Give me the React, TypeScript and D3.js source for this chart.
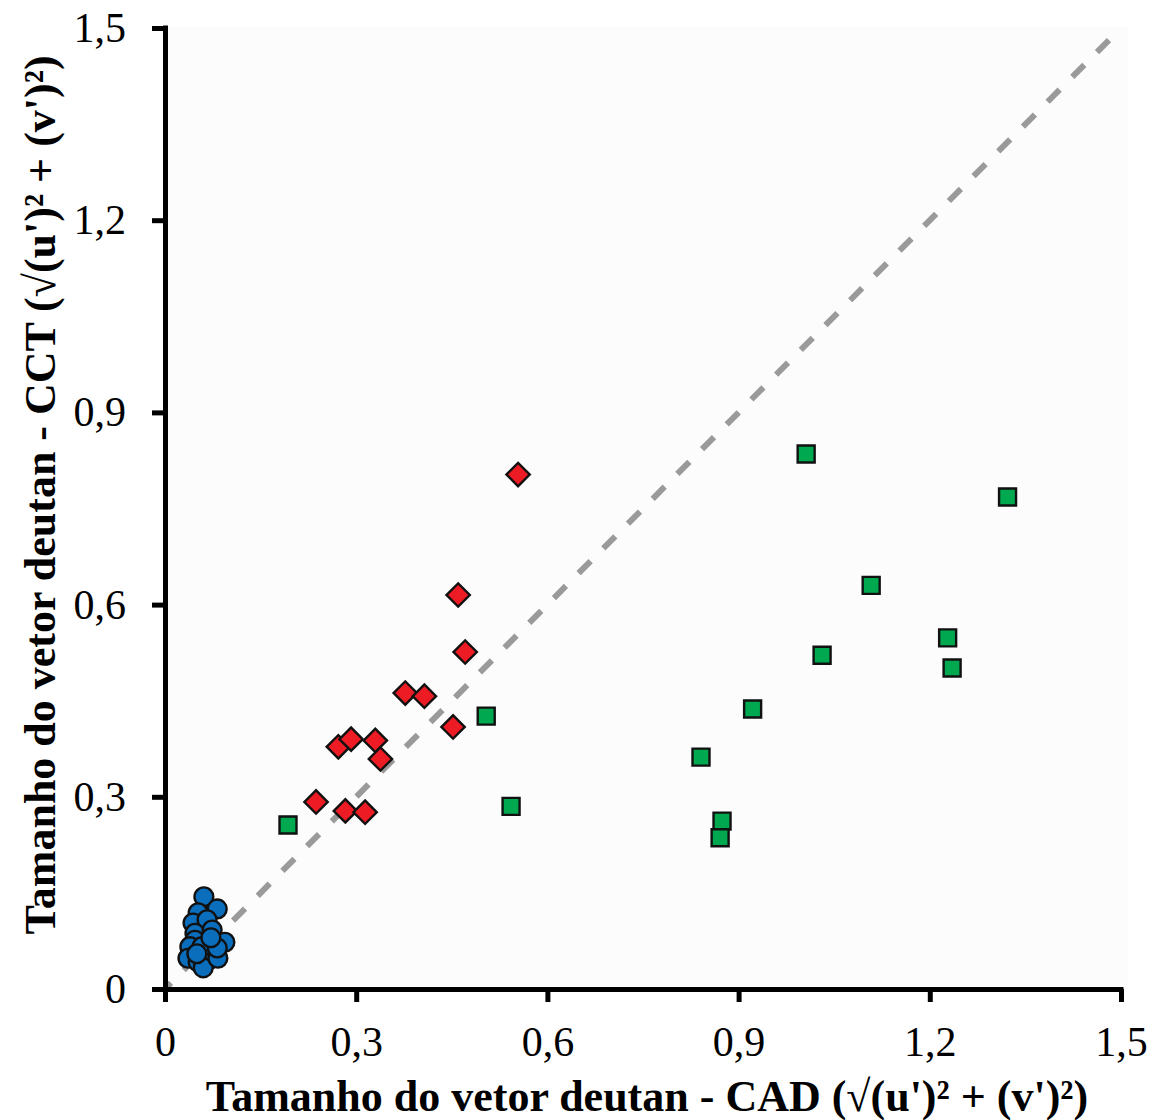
import * as d3 from "d3";
import { useRef, useEffect } from "react";

// CAD (x) vs CCT (y) deutan vector length
const squareX = [0.193, 0.543, 0.504, 1.006, 1.322, 1.108, 1.228, 1.235, 1.031, 0.922, 0.841, 0.874, 0.871];
const squareY = [0.256, 0.285, 0.426, 0.835, 0.768, 0.63, 0.548, 0.501, 0.521, 0.437, 0.362, 0.262, 0.236];

const diamondX = [0.471, 0.377, 0.407, 0.452, 0.272, 0.292, 0.33, 0.338, 0.237, 0.283, 0.314, 0.46, 0.554];
const diamondY = [0.526, 0.462, 0.457, 0.409, 0.378, 0.39, 0.388, 0.359, 0.292, 0.278, 0.276, 0.615, 0.803];

const circleX = [0.061, 0.082, 0.052, 0.044, 0.066, 0.047, 0.074, 0.094, 0.047, 0.039, 0.036, 0.052, 0.068, 0.06, 0.083, 0.058, 0.082, 0.05, 0.072];
const circleY = [0.144, 0.125, 0.119, 0.103, 0.108, 0.087, 0.092, 0.073, 0.076, 0.066, 0.048, 0.042, 0.045, 0.033, 0.048, 0.066, 0.064, 0.055, 0.08];

const tickValues = [0, 0.3, 0.6, 0.9, 1.2, 1.5];
const tickLabels = ["0", "0,3", "0,6", "0,9", "1,2", "1,5"];

const xLabel = "Tamanho do vetor deutan - CAD (\u221A(u')\u00B2 + (v')\u00B2)";
const yLabel = "Tamanho do vetor deutan - CCT (\u221A(u')\u00B2 + (v')\u00B2)";

const width = 1158;
const height = 1120;
const marginLeft = 165;
const marginRight = 37;
const marginTop = 28;
const marginBottom = 131;
const font = "'Liberation Serif', 'Times New Roman', serif";

export default function App() {
  const svgRef = useRef<SVGSVGElement>(null);

  useEffect(() => {
    const svg = d3.select(svgRef.current);
    svg.selectAll("*").remove();

    const x = d3.scaleLinear().domain([0, 1.5]).range([marginLeft, width - marginRight]);
    const y = d3.scaleLinear().domain([0, 1.5]).range([height - marginBottom, marginTop]);

    // plot area background
    svg
      .append("rect")
      .attr("x", x(0))
      .attr("y", y(1.5) - 1)
      .attr("width", x(1.5) - x(0) + 7)
      .attr("height", y(0) - y(1.5) + 1)
      .attr("fill", "#fcfcfc");

    // 1:1 reference line
    svg
      .append("line")
      .attr("x1", x(0))
      .attr("y1", y(0))
      .attr("x2", x(1.5))
      .attr("y2", y(1.5))
      .attr("stroke", "#9a9a9a")
      .attr("stroke-width", 6)
      .attr("stroke-dasharray", "17 18")
      .attr("stroke-dashoffset", 8.5);

    const squares = squareX.map((v, i) => ({ x: v, y: squareY[i] }));
    const diamonds = diamondX.map((v, i) => ({ x: v, y: diamondY[i] }));
    const circles = circleX.map((v, i) => ({ x: v, y: circleY[i] }));

    const sq = d3.symbol(d3.symbolSquare, 17 * 17);
    svg
      .append("g")
      .selectAll("path")
      .data(squares)
      .join("path")
      .attr("d", sq)
      .attr("transform", (d) => `translate(${x(d.x)},${y(d.y)})`)
      .attr("fill", "#00a84f")
      .attr("stroke", "#111")
      .attr("stroke-width", 2.4);

    const dm = d3.symbol(d3.symbolSquare, 16.5 * 16.5);
    svg
      .append("g")
      .selectAll("path")
      .data(diamonds)
      .join("path")
      .attr("d", dm)
      .attr("transform", (d) => `translate(${x(d.x)},${y(d.y)}) rotate(45)`)
      .attr("fill", "#ed1c24")
      .attr("stroke", "#111")
      .attr("stroke-width", 2.4);

    svg
      .append("g")
      .selectAll("circle")
      .data(circles)
      .join("circle")
      .attr("cx", (d) => x(d.x))
      .attr("cy", (d) => y(d.y))
      .attr("r", 9.4)
      .attr("fill", "#0a6ebd")
      .attr("stroke", "#111")
      .attr("stroke-width", 2.4);

    // axes
    const fmt = (d: d3.NumberValue) => tickLabels[tickValues.indexOf(+d)];
    const gx = svg
      .append("g")
      .attr("transform", `translate(0,${y(0)})`)
      .call(d3.axisBottom(x).tickValues(tickValues).tickFormat(fmt).tickSize(13).tickSizeOuter(0).tickPadding(24));
    const gy = svg
      .append("g")
      .attr("transform", `translate(${x(0)},0)`)
      .call(d3.axisLeft(y).tickValues(tickValues).tickFormat(fmt).tickSize(13).tickSizeOuter(0).tickPadding(26));

    [gx, gy].forEach((g) => {
      g.select(".domain").attr("stroke", "#000").attr("stroke-width", 5);
      g.selectAll(".tick line").attr("stroke", "#000").attr("stroke-width", 5);
      g.selectAll(".tick text")
        .attr("fill", "#000")
        .attr("font-family", font)
        .attr("font-size", 42);
    });
    // extend domains to the outer tick edges
    gx.select(".domain").attr("d", `M${x(0) - 2.5},0.5H${x(1.5) + 2.5}`);
    gy.select(".domain").attr("d", `M0.5,${y(0) + 2.5}V${y(1.5) - 2.5}`);

    svg
      .append("text")
      .attr("x", 647)
      .attr("y", 1111)
      .attr("text-anchor", "middle")
      .attr("font-family", font)
      .attr("font-weight", "bold")
      .attr("font-size", 44)
      .text(xLabel);

    svg
      .append("text")
      .attr("transform", `translate(55,495) rotate(-90)`)
      .attr("text-anchor", "middle")
      .attr("font-family", font)
      .attr("font-weight", "bold")
      .attr("font-size", 44)
      .text(yLabel);
  }, []);

  return (
    <svg
      ref={svgRef}
      width={width}
      height={height}
      style={{ position: "absolute", left: 0, top: 0, background: "#fff" }}
    />
  );
}
